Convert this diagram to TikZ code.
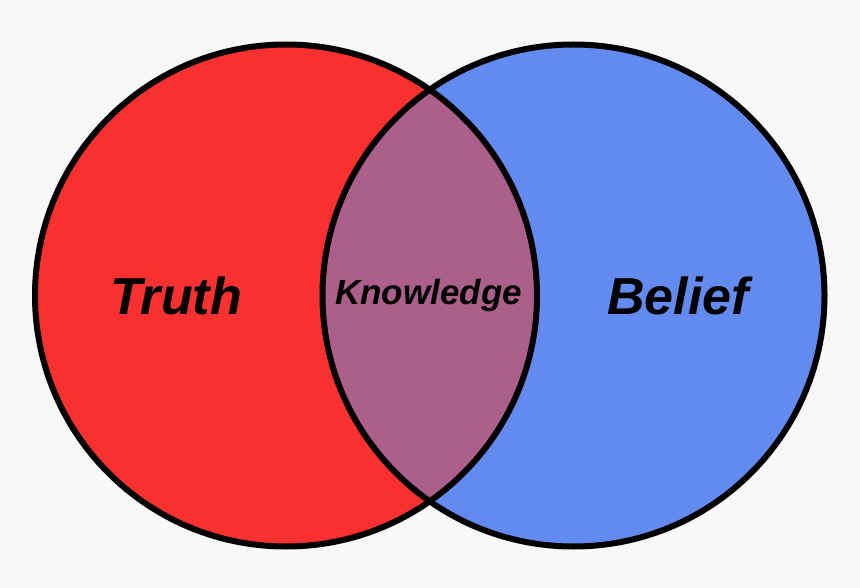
\documentclass[tikz,border=0pt]{standalone}
\usepackage{fontspec}
\setmainfont{Liberation Sans}
\definecolor{bg}{HTML}{F8F8F8}
\definecolor{truthred}{HTML}{F83030}
\definecolor{beliefblue}{HTML}{638AEE}
\definecolor{knowpurple}{HTML}{AD5F8C}
\begin{document}
\begin{tikzpicture}[x=1pt,y=-1pt,
  ring/.style={draw=black,line width=6pt},
  biglabel/.style={anchor=base,font=\fontsize{52}{60}\selectfont\bfseries\itshape,inner sep=0pt},
  smalllabel/.style={anchor=base,font=\fontsize{35}{42}\selectfont\bfseries\itshape,inner sep=0pt}]
\fill[bg] (0,0) rectangle (860,588);
\useasboundingbox (0,0) rectangle (860,588);
\coordinate (cl) at (286,295.5);
\coordinate (cr) at (573.5,295.5);
\fill[truthred] (cl) circle[radius=251];
\fill[beliefblue] (cr) circle[radius=251];
\begin{scope}
  \clip (cl) circle[radius=251];
  \fill[knowpurple] (cr) circle[radius=251];
\end{scope}
\draw[ring] (cl) circle[radius=251];
\draw[ring] (cr) circle[radius=251];
\node[biglabel] (truth) at (176,314) {Truth};
\node[biglabel] (belief) at (678,314) {Belief};
\node[smalllabel] (know) at (428.5,305) {Knowledge};
\end{tikzpicture}
\end{document}
